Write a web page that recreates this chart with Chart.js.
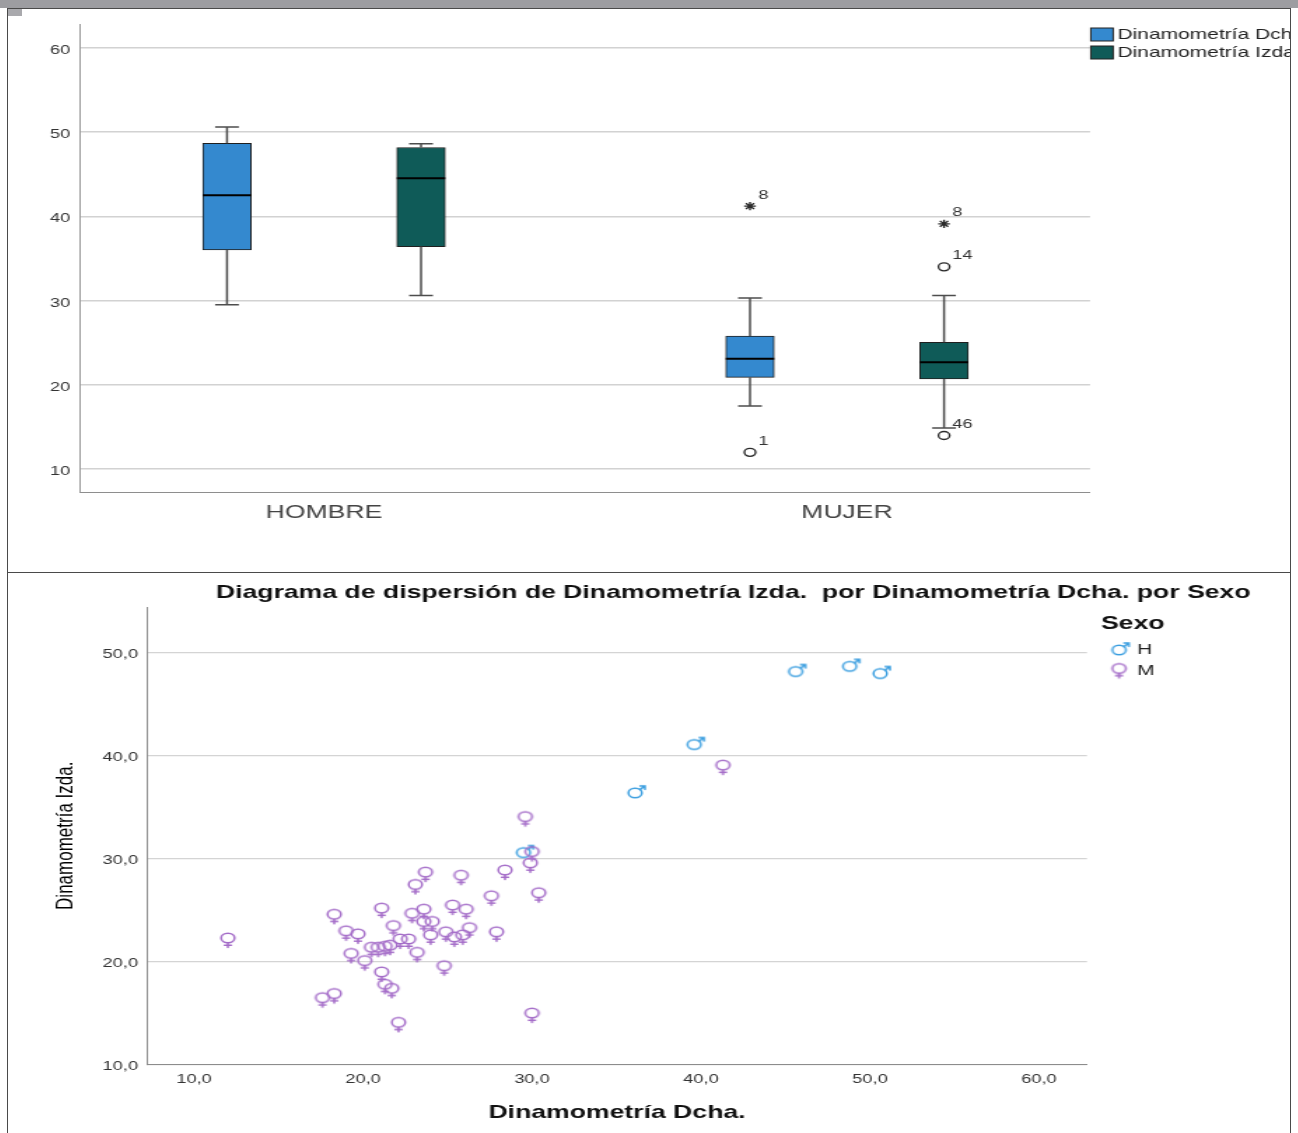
<!DOCTYPE html>
<html>
<head>
<meta charset="utf-8">
<script src="https://cdn.jsdelivr.net/npm/chart.js@4.4.1/dist/chart.umd.min.js"></script>
<style>
  body { margin: 0; background: #fff; }
  #page { position: relative; width: 1298px; height: 1133px; overflow: hidden; background: #fff; }
  .band { position: absolute; left: 0; top: 0; width: 1298px; height: 8px; background: #9d9da1; }
  .corner { position: absolute; left: 7px; top: 9px; width: 15px; height: 7px; background: #a9a9ad; }
  .rule { position: absolute; background: #4a4a4a; }
  /* the reference picture is stretched sideways, so each chart is drawn narrow and widened */
  .panel { position: absolute; left: 8px; width: 916px; transform: scaleX(1.4); transform-origin: 0 0; }
  canvas { display: block; }
</style>
</head>
<body>
<div id="page">
  <div class="band"></div>
  <div class="panel" style="top:9px;height:562px"><canvas id="boxChart" width="916" height="562"></canvas></div>
  <div class="panel" style="top:573px;height:560px"><canvas id="scatterChart" width="916" height="560"></canvas></div>
  <div class="corner"></div>
  <div class="rule" style="left:7px;top:8px;width:1px;height:1125px"></div>
  <div class="rule" style="left:1290px;top:8px;width:1px;height:1125px"></div>
  <div class="rule" style="left:7px;top:8px;width:1284px;height:1px"></div>
  <div class="rule" style="left:7px;top:572px;width:1284px;height:1px"></div>
</div>
<script>
const FONT = "'Liberation Sans', Arial, sans-serif";

// Box plot ---------------------------------------------
const categories = ['HOMBRE', 'MUJER'];
const boxLabels = ['Dinamometría Dcha.', 'Dinamometría Izda.'];
const boxTicks = [10, 20, 30, 40, 50, 60];
// [lower whisker, Q1, median, Q3, upper whisker] for HOMBRE, MUJER
const dchaBoxes = [[29.5, 36.0, 42.5, 48.65, 50.6], [17.5, 20.9, 23.1, 25.8, 30.3]];
const izdaBoxes = [[30.6, 36.4, 44.5, 48.15, 48.6], [14.9, 20.7, 22.7, 25.05, 30.6]];
// outliers: [category, value, case number, marker]
const dchaOutliers = [[1, 41.2, '8', 'star'], [1, 12.0, '1', 'circle']];
const izdaOutliers = [[1, 39.1, '8', 'star'], [1, 34.0, '14', 'circle'], [1, 14.0, '46', 'circle']];

// Scatter ----------------------------------------------
const sexLabels = ['H', 'M'];
const hombreDcha = [29.5, 36.1, 39.6, 45.6, 48.8, 50.6];
const hombreIzda = [30.6, 36.4, 41.1, 48.2, 48.7, 48.0];
const mujerDcha = [12.0, 17.6, 18.3, 18.3, 19.0, 19.7, 19.3, 20.1, 20.5, 20.9, 21.3, 21.6, 21.1, 21.1, 21.3,
  21.7, 21.8, 22.2, 22.7, 22.1, 22.9, 23.1, 23.2, 23.6, 23.7, 23.6, 24.1, 24.0, 24.8, 24.9,
  25.3, 25.4, 25.8, 25.9, 26.1, 26.3, 27.6, 27.9, 28.4, 29.6, 30.0, 29.9, 30.4, 30.0, 41.3];
const mujerIzda = [22.3, 16.5, 16.9, 24.6, 23.0, 22.7, 20.8, 20.1, 21.4, 21.4, 21.5, 21.6, 25.2, 19.0, 17.8,
  17.4, 23.5, 22.2, 22.2, 14.1, 24.7, 27.5, 20.9, 25.1, 28.7, 23.9, 23.9, 22.6, 19.6, 22.9,
  25.5, 22.4, 28.4, 22.6, 25.1, 23.3, 26.4, 22.9, 28.9, 34.1, 30.7, 29.6, 26.7, 15.0, 39.1];
const scatterTicksX = [10, 20, 30, 40, 50, 60];
const scatterTicksY = [10, 20, 30, 40, 50];
const scatterTitle = 'Diagrama de dispersión de Dinamometría Izda.  por Dinamometría Dcha. por Sexo';

// ------------------------------------------------------
const boxColors = ['#3489cf', '#0f5b58'];
const sexColors = ['#3c9fe0', '#a46cc8'];
const OFFSET = 0.1855; // box distance from the category centre, in category units

const fmt = v => v.toFixed(1).replace('.', ',');

function boxDataset(i, boxes) {
  const side = i === 0 ? -1 : 1;
  return {
    type: 'bar',
    label: boxLabels[i],
    grouped: false,
    barThickness: 34.6,
    backgroundColor: boxColors[i],
    borderColor: '#1f1f1f',
    borderWidth: 1,
    borderSkipped: false,
    data: boxes.map((b, c) => ({ x: c + side * OFFSET, y: [b[1], b[3]], stats: b })),
  };
}

function outlierDataset(i, list) {
  const side = i === 0 ? -1 : 1;
  return {
    type: 'scatter',
    label: boxLabels[i] + ' atípicos',
    data: list.map(o => ({ x: o[0] + side * OFFSET, y: o[1], caseNo: o[2], marker: o[3] })),
    pointStyle: ctx => (ctx.raw && ctx.raw.marker === 'star' ? 'star' : 'circle'),
    pointRadius: ctx => (ctx.raw && ctx.raw.marker === 'star' ? 4.2 : 4),
    borderColor: '#2b2b2b',
    backgroundColor: 'rgba(0,0,0,0)',
    borderWidth: 1.4,
  };
}

// whiskers, caps, medians and case numbers
const boxPlotParts = {
  id: 'boxPlotParts',
  afterDatasetsDraw(chart) {
    const y = chart.scales.y;
    const g = chart.ctx;
    g.save();
    chart.data.datasets.forEach((ds, d) => {
      const meta = chart.getDatasetMeta(d);
      if (ds.type === 'bar') {
        meta.data.forEach((bar, j) => {
          const [lo, q1, med, q3, hi] = ds.data[j].stats;
          const cap = 8.5;
          g.strokeStyle = '#4d4d4d';
          g.lineWidth = 1.5;
          g.beginPath();
          g.moveTo(bar.x, y.getPixelForValue(q3));
          g.lineTo(bar.x, y.getPixelForValue(hi));
          g.moveTo(bar.x - cap, y.getPixelForValue(hi));
          g.lineTo(bar.x + cap, y.getPixelForValue(hi));
          g.moveTo(bar.x, y.getPixelForValue(q1));
          g.lineTo(bar.x, y.getPixelForValue(lo));
          g.moveTo(bar.x - cap, y.getPixelForValue(lo));
          g.lineTo(bar.x + cap, y.getPixelForValue(lo));
          g.stroke();
          g.strokeStyle = '#000';
          g.lineWidth = 2;
          g.beginPath();
          g.moveTo(bar.x - bar.width / 2, y.getPixelForValue(med));
          g.lineTo(bar.x + bar.width / 2, y.getPixelForValue(med));
          g.stroke();
        });
      } else {
        g.fillStyle = '#333';
        g.font = `13px ${FONT}`;
        g.textBaseline = 'middle';
        meta.data.forEach((pt, j) => {
          g.fillText(ds.data[j].caseNo, pt.x + 6, pt.y - 11);
        });
      }
    });
    g.restore();
  }
};

const boxLegend = {
  id: 'boxLegend',
  afterDraw(chart) {
    const g = chart.ctx;
    const left = chart.chartArea.right;
    g.save();
    g.font = `15px ${FONT}`;
    g.textBaseline = 'middle';
    boxLabels.forEach((label, i) => {
      const cy = 25.5 + i * 18;
      g.fillStyle = boxColors[i];
      g.fillRect(left + 0.5, cy - 6.5, 16, 13);
      g.strokeStyle = '#222';
      g.lineWidth = 1;
      g.strokeRect(left + 0.5, cy - 6.5, 16, 13);
      g.fillStyle = '#222';
      g.fillText(label, left + 19.5, cy);
    });
    g.restore();
  }
};

new Chart(document.getElementById('boxChart'), {
  type: 'bar',
  data: {
    datasets: [
      boxDataset(0, dchaBoxes),
      boxDataset(1, izdaBoxes),
      outlierDataset(0, dchaOutliers),
      outlierDataset(1, izdaOutliers),
    ]
  },
  options: {
    responsive: false,
    animation: false,
    events: [],
    layout: { padding: { top: 15, right: 143.1, left: 0, bottom: 0 } },
    plugins: { legend: { display: false }, tooltip: { enabled: false } },
    scales: {
      x: {
        type: 'linear',
        offset: false,
        min: -0.4666,
        max: 1.4647,
        afterBuildTicks: s => { s.ticks = categories.map((c, i) => ({ value: i })); },
        afterFit: s => { s.height = 79; },
        grid: { display: false, drawTicks: false },
        border: { color: '#8e8e8e', width: 1 },
        ticks: {
          padding: 9,
          color: '#444',
          font: { size: 19, family: FONT },
          maxRotation: 0,
          autoSkip: false,
          callback: v => categories[v],
        },
      },
      y: {
        min: 7.3,
        max: 62.8,
        afterBuildTicks: s => { s.ticks = boxTicks.map(v => ({ value: v })); },
        afterFit: s => { s.width = 51.4; },
        grid: { color: '#d2d2d2', lineWidth: 1.5, drawTicks: false },
        border: { color: '#9a9a9a', width: 1 },
        ticks: { padding: 7, labelOffset: 2.5, color: '#333', font: { size: 13, family: FONT } },
      }
    }
  },
  plugins: [boxPlotParts, boxLegend]
});

// symbols ♂ / ♀ used as point styles
function sexSymbol(male, color) {
  const c = document.createElement('canvas');
  c.width = 22;
  c.height = 22;
  const g = c.getContext('2d');
  g.strokeStyle = color;
  g.lineWidth = 1.5;
  g.lineCap = 'round';
  g.beginPath();
  g.arc(11, 11, 4.8, 0, Math.PI * 2);
  g.stroke();
  g.beginPath();
  if (male) {
    g.moveTo(14.4, 7.6);
    g.lineTo(18, 4);
    g.moveTo(14.6, 4);
    g.lineTo(18, 4);
    g.lineTo(18, 7.4);
  } else {
    g.moveTo(11, 15.8);
    g.lineTo(11, 20.5);
    g.moveTo(8.6, 18.3);
    g.lineTo(13.4, 18.3);
  }
  g.stroke();
  return c;
}
const symbols = [sexSymbol(true, sexColors[0]), sexSymbol(false, sexColors[1])];

const scatterExtras = {
  id: 'scatterExtras',
  afterDraw(chart) {
    const g = chart.ctx;
    g.save();
    g.fillStyle = '#111';
    g.textBaseline = 'middle';
    g.font = `bold 19px ${FONT}`;
    g.textAlign = 'center';
    g.fillText(scatterTitle, 518, 20);
    g.textAlign = 'left';
    g.font = `bold 19px ${FONT}`;
    g.fillText('Sexo', 780.7, 51);
    g.font = `15px ${FONT}`;
    sexLabels.forEach((s, i) => {
      const cy = 77 + i * 18.5;
      g.drawImage(symbols[i], 793.6 - 11, cy - 11);
      g.fillStyle = '#222';
      g.fillText(s, 806.4, cy + (i ? 2 : 0));
    });
    g.restore();
  }
};

new Chart(document.getElementById('scatterChart'), {
  type: 'scatter',
  data: {
    datasets: [
      {
        label: sexLabels[1],
        data: mujerDcha.map((x, i) => ({ x, y: mujerIzda[i] })),
        pointStyle: symbols[1],
      },
      {
        label: sexLabels[0],
        data: hombreDcha.map((x, i) => ({ x, y: hombreIzda[i] })),
        pointStyle: symbols[0],
      },
    ]
  },
  options: {
    responsive: false,
    animation: false,
    events: [],
    layout: { padding: { top: 34, right: 145.3, left: 0, bottom: 0 } },
    plugins: { legend: { display: false }, tooltip: { enabled: false } },
    scales: {
      x: {
        type: 'linear',
        min: 7.22,
        max: 62.84,
        afterBuildTicks: s => { s.ticks = scatterTicksX.map(v => ({ value: v })); },
        afterFit: s => { s.height = 68.5; },
        grid: { display: false, drawTicks: false },
        border: { color: '#8c8c8c', width: 1 },
        ticks: { padding: 7, color: '#333', font: { size: 13, family: FONT }, maxRotation: 0, autoSkip: false, callback: v => fmt(v) },
        title: {
          display: true,
          text: 'Dinamometría Dcha.',
          color: '#111',
          font: { size: 19, weight: 'bold', family: FONT },
          padding: { top: 0, bottom: 9 },
        },
      },
      y: {
        min: 10,
        max: 54.47,
        afterBuildTicks: s => { s.ticks = scatterTicksY.map(v => ({ value: v })); },
        afterFit: s => { s.width = 99.3; },
        grid: { color: '#d4d4d4', lineWidth: 1.2, drawTicks: false },
        border: { color: '#8c8c8c', width: 1 },
        ticks: { padding: 6.4, labelOffset: 1.5, color: '#333', font: { size: 13, family: FONT }, callback: v => fmt(v) },
        title: {
          display: true,
          text: 'Dinamometría Izda.',
          color: '#000',
          font: { size: 17, family: FONT },
          padding: { top: 31.2, bottom: 0 },
        },
      }
    }
  },
  plugins: [scatterExtras]
});
</script>
</body>
</html>
